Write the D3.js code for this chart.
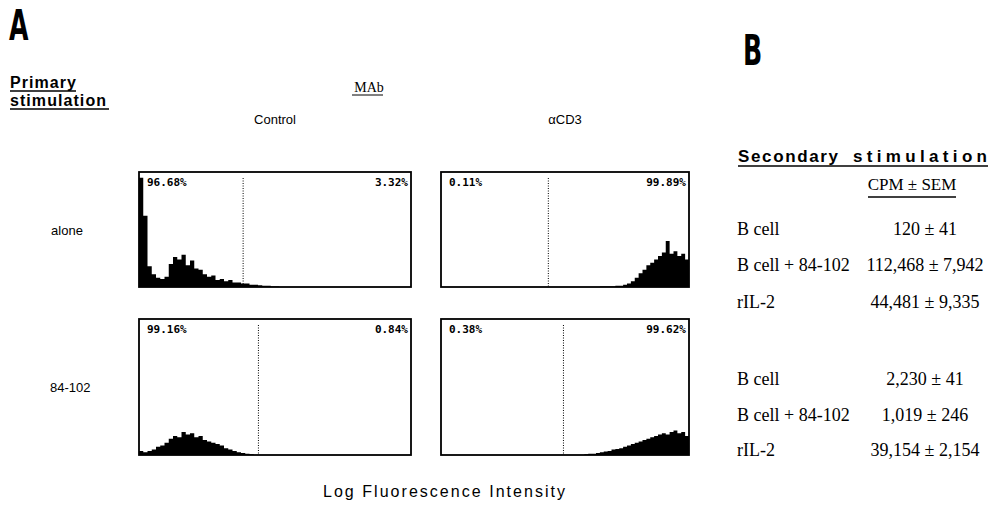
<!DOCTYPE html>
<html>
<head>
<meta charset="utf-8">
<script src="https://cdn.jsdelivr.net/npm/d3@7"></script>
<style>
  body { margin: 0; background: #fff; }
  svg { display: block; }
  .sans { font-family: "Liberation Sans", Arial, sans-serif; }
  .serif { font-family: "Liberation Serif", "Times New Roman", serif; }
</style>
</head>
<body>
<svg width="990" height="512"></svg>
<script>
// 条件とMAb
const conditions = ["alone", "84-102"];
const mabs = ["Control", "αCD3"];

// ゲートの左右の割合 (%)
const pctLeft = ["96.68%", "0.11%", "99.16%", "0.38%"];
const pctRight = ["3.32%", "99.89%", "0.84%", "99.62%"];

// ゲート位置 (64チャンネル中)
const gates = [24.5, 27.7, 28.1, 31.6];

// ヒストグラム (64ビン, パネル高さに対する%)
const histControlAlone = [
  95, 62, 18, 11, 8, 7, 9, 20, 26, 24, 28, 19, 23, 16, 15, 11,
  9, 10, 6, 7, 5, 6, 4, 4, 3, 3, 2, 2, 1.5, 1, 1, 0.5,
  0.5, 0, 0, 0, 0, 0, 0, 0, 0, 0, 0, 0, 0, 0, 0, 0,
  0, 0, 0, 0, 0, 0, 0, 0, 0, 0, 0, 0, 0, 0, 0, 0
];
const histCD3Alone = [
  0, 0, 0, 0, 0, 0, 0, 0, 0, 0, 0, 0, 0, 0, 0, 0,
  0, 0, 0, 0, 0, 0, 0, 0, 0, 0, 0, 0, 0, 0, 0, 0,
  0, 0, 0, 0, 0, 0, 0, 0, 0, 0.5, 0.5, 0.5, 0.5, 1, 1, 2,
  3, 5, 8, 12, 15, 19, 21, 24, 27, 30, 40, 29, 31, 27, 29, 24
];
const histControl84 = [
  3, 2, 3, 4, 6, 7, 9, 12, 14, 13, 17, 15, 16, 13, 14, 11,
  10, 9, 8, 7, 5, 4, 3, 2, 1.5, 1, 0.5, 0, 0, 0, 0, 0,
  0, 0, 0, 0, 0, 0, 0, 0, 0, 0, 0, 0, 0, 0, 0, 0,
  0, 0, 0, 0, 0, 0, 0, 0, 0, 0, 0, 0, 0, 0, 0, 0
];
const histCD384 = [
  0, 0, 0, 0, 0, 0, 0, 0, 0, 0, 0, 0, 0, 0, 0, 0,
  0, 0, 0, 0, 0, 0, 0, 0, 0, 0, 0, 0, 0, 0, 0, 0,
  0, 0, 0, 0, 0, 0.5, 1, 1, 1.5, 2, 2.5, 3, 4, 4.5, 5, 6,
  7, 8, 9, 10, 11, 12, 13, 14, 15, 16, 15, 17, 18, 16, 17, 14
];
const hists = [histControlAlone, histCD3Alone, histControl84, histCD384];

// B: 二次刺激
const rowLabels = ["B cell", "B cell + 84-102", "rIL-2"];
const cpmAlone = ["120", "112,468", "44,481"];
const semAlone = ["41", "7,942", "9,335"];
const cpm84 = ["2,230", "1,019", "39,154"];
const sem84 = ["41", "246", "2,154"];

const svg = d3.select("svg");

// パネル配置
const cols = [[139, 411], [441, 689]];
const rows = [[172, 287], [319, 455]];

const xCh = d3.scaleLinear().domain([0, 64]);
const yPct = d3.scaleLinear().domain([0, 100]);

hists.forEach((h, i) => {
  const [x0, x1] = cols[i % 2];
  const [y0, y1] = rows[Math.floor(i / 2)];
  const x = xCh.copy().range([x0, x1]);
  const y = yPct.copy().range([y1, y0]);
  const g = svg.append("g");

  const pts = h.map((v, k) => [k, v]).concat([[64, h[63]]]);
  g.append("path")
    .attr("d", d3.area().curve(d3.curveStepAfter)
      .x(d => x(d[0])).y0(y(0)).y1(d => y(d[1]))(pts))
    .attr("fill", "#000");

  g.append("line")
    .attr("x1", x(gates[i])).attr("x2", x(gates[i]))
    .attr("y1", y0 + 6).attr("y2", y1)
    .attr("stroke", "#000").attr("stroke-width", 1)
    .attr("stroke-dasharray", "1,1.5");

  g.append("rect")
    .attr("x", x0).attr("y", y0)
    .attr("width", x1 - x0).attr("height", y1 - y0)
    .attr("fill", "none").attr("stroke", "#000").attr("stroke-width", 1.8);

  g.append("text")
    .attr("x", x0 + 8).attr("y", y0 + 14)
    .style("font-family", "'DejaVu Sans Mono', monospace")
    .style("font-weight", "bold").style("font-size", "11px")
    .text(pctLeft[i]);
  g.append("text")
    .attr("x", x1 - 3).attr("y", y0 + 14)
    .attr("text-anchor", "end")
    .style("font-family", "'DejaVu Sans Mono', monospace")
    .style("font-weight", "bold").style("font-size", "11px")
    .text(pctRight[i]);
});

// 見出し
const big = (t, x, y) => svg.append("text")
  .attr("transform", `translate(${x},${y}) scale(0.6,1)`)
  .style("font-family", "'DejaVu Sans', sans-serif")
  .style("font-weight", "bold").style("font-size", "42px")
  .text(t);
big("A", 9, 40);
big("B", 743, 65);

svg.append("text").attr("class", "sans")
  .attr("x", 10).attr("y", 88).attr("textLength", 66)
  .style("font-weight", "bold").style("font-size", "16px").text("Primary");
svg.append("text").attr("class", "sans")
  .attr("x", 10).attr("y", 106).attr("textLength", 96)
  .style("font-weight", "bold").style("font-size", "16px").text("stimulation");
svg.append("line").attr("x1", 10).attr("x2", 76).attr("y1", 91).attr("y2", 91)
  .attr("stroke", "#000").attr("stroke-width", 1.6);
svg.append("line").attr("x1", 10).attr("x2", 109).attr("y1", 109).attr("y2", 109)
  .attr("stroke", "#000").attr("stroke-width", 1.6);

svg.append("text").attr("class", "serif")
  .attr("x", 369).attr("y", 92).attr("text-anchor", "middle")
  .style("font-size", "14px").text("MAb");
svg.append("line").attr("x1", 352).attr("x2", 383).attr("y1", 95).attr("y2", 95)
  .attr("stroke", "#000").attr("stroke-width", 1);

mabs.forEach((m, i) => {
  svg.append("text").attr("class", "sans")
    .attr("x", (cols[i][0] + cols[i][1]) / 2).attr("y", 124)
    .attr("text-anchor", "middle").style("font-size", "13px").text(m);
});

conditions.forEach((c, i) => {
  svg.append("text").attr("class", "sans")
    .attr("x", i === 0 ? 67 : 50).attr("y", (rows[i][0] + rows[i][1]) / 2 + 5)
    .attr("text-anchor", i === 0 ? "middle" : "start")
    .style("font-size", "13px").text(c);
});

svg.append("text").attr("class", "sans")
  .attr("x", 323).attr("y", 497).attr("textLength", 242)
  .style("font-size", "16px").text("Log Fluorescence Intensity");

// B: 表
svg.append("text").attr("class", "sans")
  .attr("x", 738).attr("y", 162).attr("textLength", 100)
  .style("font-weight", "bold").style("font-size", "17px").text("Secondary");
svg.append("text").attr("class", "sans")
  .attr("x", 853).attr("y", 162).attr("textLength", 134)
  .style("font-weight", "bold").style("font-size", "17px").text("stimulation");
svg.append("line").attr("x1", 738).attr("x2", 988).attr("y1", 166).attr("y2", 166)
  .attr("stroke", "#000").attr("stroke-width", 1.6);

svg.append("text").attr("class", "serif")
  .attr("x", 912).attr("y", 190).attr("text-anchor", "middle")
  .style("font-size", "17px").text("CPM ± SEM");
svg.append("line").attr("x1", 868).attr("x2", 956).attr("y1", 197).attr("y2", 197)
  .attr("stroke", "#000").attr("stroke-width", 1.4);

const rowY = [[235, 271, 308], [385, 421, 456]];
[[cpmAlone, semAlone], [cpm84, sem84]].forEach(([cpm, sem], gi) => {
  rowLabels.forEach((r, k) => {
    svg.append("text").attr("class", "serif")
      .attr("x", 737).attr("y", rowY[gi][k])
      .style("font-size", "18px").text(r);
    svg.append("text").attr("class", "serif")
      .attr("x", 925).attr("y", rowY[gi][k]).attr("text-anchor", "middle")
      .style("font-size", "18px").text(`${cpm[k]} ± ${sem[k]}`);
  });
});
</script>
</body>
</html>
